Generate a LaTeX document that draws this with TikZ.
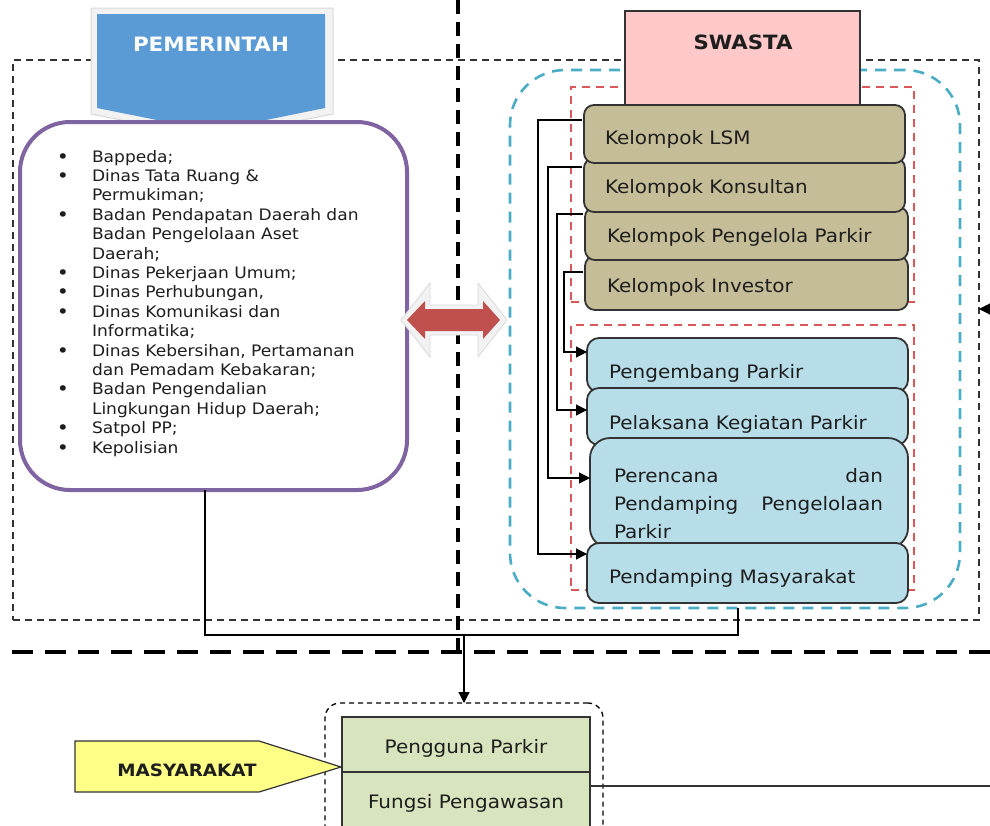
\documentclass[tikz,border=0pt]{standalone}
\usepackage{fontspec}
\setmainfont[FakeStretch=1.08]{DejaVu Sans}
\usetikzlibrary{arrows.meta,calc}
\definecolor{banblue}{HTML}{5B9BD5}
\definecolor{govpurple}{HTML}{8064A2}
\definecolor{arrred}{HTML}{C0504D}
\definecolor{swpink}{HTML}{FFC9C9}
\definecolor{regblue}{HTML}{4BACC6}
\definecolor{regred}{HTML}{D9595A}
\definecolor{tanfill}{HTML}{C4BD97}
\definecolor{lbfill}{HTML}{B7DDE8}
\definecolor{grfill}{HTML}{D7E4BD}
\definecolor{yelfill}{HTML}{FFFF88}
\definecolor{txt}{HTML}{1E1E1E}
\definecolor{edge}{HTML}{333333}
\begin{document}
\begin{tikzpicture}[x=1pt,y=-1pt,
 every node/.style={inner sep=0pt,outer sep=0pt},
 outerdash/.style={draw=edge,line width=1.6pt,dash pattern=on 7pt off 5pt},
 bigdash/.style={draw=black,line width=3.6pt},
 regionblue/.style={draw=regblue,line width=2.6pt,dash pattern=on 11pt off 8pt,rounded corners=55pt},
 regionred/.style={draw=regred,line width=2pt,dash pattern=on 8pt off 6pt},
 tanbox/.style={draw=edge,fill=tanfill,line width=1.8pt,rounded corners=10pt},
 bluebox/.style={draw=edge,fill=lbfill,line width=1.8pt,rounded corners=12pt},
 greenbox/.style={draw=edge,fill=grfill,line width=1.4pt},
 boxtext/.style={font=\fontsize{18.5}{22}\selectfont,text=txt,anchor=base west},
 bltext/.style={font=\fontsize{15.8}{19}\selectfont,text=txt,anchor=base west},
 bottext/.style={font=\fontsize{18.5}{22}\selectfont,text=txt},
 conn/.style={draw=black,line width=1.1pt},
 connarrow/.style={conn,-{Triangle[length=11pt,width=11pt]}},
]
\useasboundingbox (0,0) rectangle (990,825);

% outer dashed frame
\node[outerdash,minimum width=966pt,minimum height=560pt] (outer) at (496,340) {};
% thick separators
\draw[bigdash,dash pattern=on 14pt off 8pt] (458,0) -- (458,650);
\draw[bigdash,dash pattern=on 21pt off 12pt] (12,652) -- (990,652);

% swasta regions
\node[regionblue,minimum width=450pt,minimum height=538pt] (swregion) at (735,339) {};
\node[regionred,minimum width=343pt,minimum height=215pt] (redtop) at (742.5,194.5) {};
\node[regionred,minimum width=343pt,minimum height=265pt] (redbot) at (742.5,457.5) {};

% PEMERINTAH banner
\filldraw[fill=gray!10,draw=gray!30,line width=1pt] (91,8) -- (333,8) -- (333,114) -- (212,138) -- (91,114) -- cycle;
\fill[banblue] (97,14) -- (325,14) -- (325,108) -- (212,131) -- (97,108) -- cycle;
\node[font=\bfseries\fontsize{19.8}{22}\selectfont,text=white] (pem) at (211,44.5) {PEMERINTAH};

% government box
\node[draw=govpurple,fill=white,line width=4pt,rounded corners=50pt,minimum width=387pt,minimum height=368pt] (gov) at (213.5,306) {};
\foreach \i/\b/\t in {0/1/{Bappeda;},1/1/{Dinas Tata Ruang \&},2/0/{Permukiman;},3/1/{Badan Pendapatan Daerah dan},4/0/{Badan Pengelolaan Aset},5/0/{Daerah;},6/1/{Dinas Pekerjaan Umum;},7/1/{Dinas Perhubungan,},8/1/{Dinas Komunikasi dan},9/0/{Informatika;},10/1/{Dinas Kebersihan, Pertamanan},11/0/{dan Pemadam Kebakaran;},12/1/{Badan Pengendalian},13/0/{Lingkungan Hidup Daerah;},14/1/{Satpol PP;},15/1/{Kepolisian}}{
  \node[bltext] (l\i) at (92,{162+19.4*\i}) {\t};
  \ifnum\b=1 \node[bltext,font=\fontsize{19}{19}\selectfont,anchor=base] (b\i) at (63,{163+19.4*\i}) {\textbullet}; \fi
}

% double arrow
\filldraw[fill=gray!10,draw=gray!30,line width=0.8pt] (401,320) -- (430,283) -- (430,305) -- (478,305) -- (478,283) -- (507,320) -- (478,357) -- (478,335) -- (430,335) -- (430,357) -- cycle;
\fill[arrred] (407,320) -- (425,301) -- (425,309) -- (483,309) -- (483,301) -- (500,320) -- (483,339) -- (483,331) -- (425,331) -- (425,339) -- cycle;

% SWASTA
\node[draw=edge,fill=swpink,line width=1.4pt,minimum width=235pt,minimum height=94pt] (swasta) at (742.5,58) {};
\node[font=\bfseries\fontsize{19.7}{22}\selectfont,text=txt] (swtxt) at (743,42.5) {SWASTA};

% tan boxes
\node[tanbox,minimum width=323pt,minimum height=54pt] (inv) at (746.5,283) {};
\node[tanbox,minimum width=323pt,minimum height=53pt] (peng) at (746.5,233.5) {};
\node[tanbox,minimum width=321pt,minimum height=54pt] (kons) at (744.5,185) {};
\node[tanbox,minimum width=321pt,minimum height=58pt] (lsm) at (744.5,134) {};
\node[boxtext] (tlsm) at (605,144) {Kelompok LSM};
\node[boxtext] (tkons) at (605,193) {Kelompok Konsultan};
\node[boxtext] (tpeng) at (607,242) {Kelompok Pengelola Parkir};
\node[boxtext] (tinv) at (607,292) {Kelompok Investor};

% blue boxes
\node[bluebox,minimum width=321pt,minimum height=54pt] (pbang) at (747.5,365) {};
\node[bluebox,minimum width=321pt,minimum height=57pt] (plak) at (747.5,416.5) {};
\node[bluebox,rounded corners=20pt,minimum width=318pt,minimum height=110pt] (pren) at (749,493) {};
\node[bluebox,minimum width=321pt,minimum height=60pt] (pdamp) at (747.5,573) {};
\node[boxtext] (tpbang) at (609,378) {Pengembang Parkir};
\node[boxtext] (tplak) at (609,429) {Pelaksana Kegiatan Parkir};
\node[boxtext] (tpren1) at (614,482) {Perencana};
\node[boxtext,anchor=base east] (tpren2) at (883,482) {dan};
\node[boxtext] (tpren3) at (614,510) {Pendamping};
\node[boxtext,anchor=base east] (tpren4) at (883,510) {Pengelolaan};
\node[boxtext] (tpren5) at (614,538) {Parkir};
\node[boxtext] (tpdamp) at (609,583) {Pendamping Masyarakat};

% connectors inside swasta
\draw[connarrow] ([xshift=-2pt,yshift=14pt]lsm.west) -- ++(-44,0) |- ([yshift=19pt]pdamp.west);
\draw[connarrow] ([xshift=-2pt,yshift=18pt]kons.west) -- ++(-34,0) |- ([yshift=15pt]pren.west);
\draw[connarrow] ([xshift=-2pt,yshift=19.5pt]peng.west) -- ++(-26,0) |- ([yshift=6.5pt]plak.west);
\draw[connarrow] ([xshift=-2pt,yshift=11pt]inv.west) -- ++(-19,0) |- ([yshift=13pt]pbang.west);

% bottom area
\node[draw=black,line width=1.3pt,dash pattern=on 5pt off 4pt,rounded corners=15pt,minimum width=278pt,minimum height=142pt] (mzone) at (464,774) {};
\node[greenbox,minimum width=248pt,minimum height=58pt] (fungsi) at (466,801) {};
\node[greenbox,minimum width=248pt,minimum height=55pt] (pengguna) at (466,744.5) {};
\draw[line width=2.5pt,edge] (pengguna.south west) -- (pengguna.south east);
\node[bottext] (tpengguna) at (466,748) {Pengguna Parkir};
\node[bottext] (tfungsi) at (466,803) {Fungsi Pengawasan};
\filldraw[fill=yelfill,draw=edge,line width=1.2pt] (75,741) -- (259,741) -- (341,767) -- (259,792) -- (75,792) -- cycle;
\node[font=\bfseries\fontsize{17}{20}\selectfont,text=txt] (masy) at (187,770) {MASYARAKAT};

% main connectors
\coordinate (j) at (464,635);
\draw[conn] ([xshift=-8.5pt]gov.south) |- (j) -| ([xshift=3pt]swregion.south);
\draw[connarrow] (j) -- (mzone.north);
\coordinate (rightend) at (990,786);
\draw[conn,draw=edge,line width=1.5pt] ([yshift=15pt]fungsi.east) -- (rightend);
\coordinate (rin) at (998,309);
\draw[connarrow] (rin) -- (outer.east |- rin);
\end{tikzpicture}
\end{document}
